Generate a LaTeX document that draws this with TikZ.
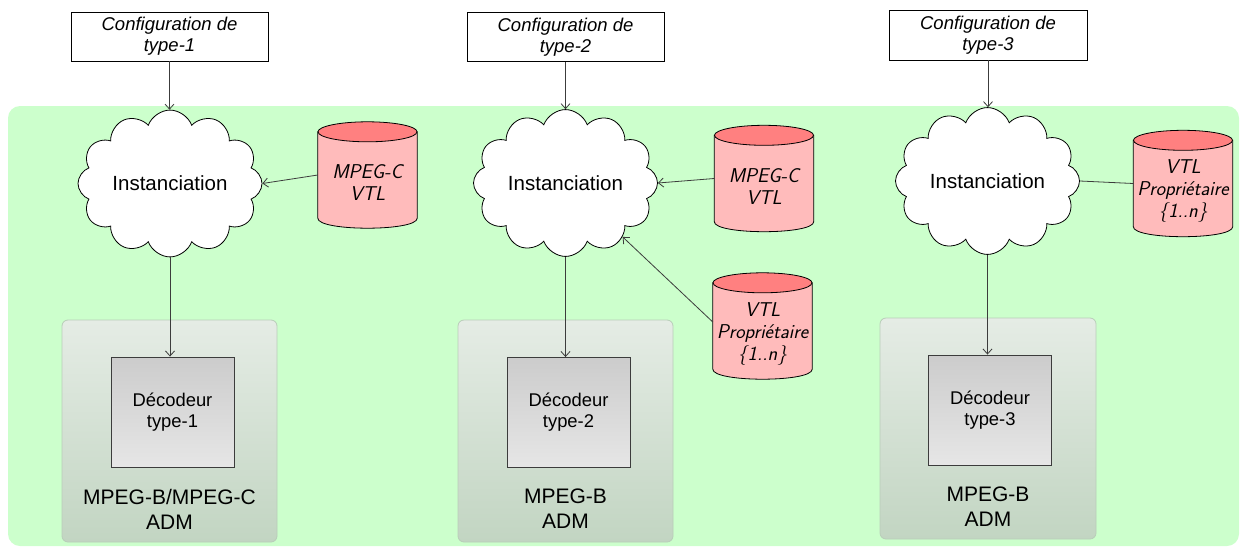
\documentclass[tikz,border=0pt]{standalone}
\usepackage{fontspec}
\setmainfont{Liberation Sans}
\usetikzlibrary{shapes.symbols,arrows.meta}
\definecolor{greenbg}{RGB}{204,255,204}
\definecolor{cylbody}{RGB}{255,187,187}
\definecolor{cyltop}{RGB}{255,128,128}
\definecolor{lineg}{RGB}{60,60,60}
\definecolor{admtop}{RGB}{229,236,229}
\definecolor{admbot}{RGB}{194,213,194}
\definecolor{admborder}{RGB}{185,205,185}
\definecolor{dectop}{RGB}{204,204,204}
\definecolor{decbot}{RGB}{230,230,230}
\tikzset{
  cfgbox/.style={draw=black, line width=0.8pt, fill=white, minimum width=197pt, minimum height=49pt,
    align=center, font=\fontsize{18.5}{21}\selectfont\itshape, inner sep=0pt},
  cloudnode/.style={cloud, draw=black, line width=0.8pt, fill=white, cloud puffs=12, cloud puff arc=140,
    minimum width=184pt, minimum height=137pt, aspect=1.34, inner sep=0pt,
    font=\fontsize{20.5}{24}\selectfont},
  cylframe/.style={rectangle, minimum width=99pt, minimum height=106pt, inner sep=0pt},
  cylline/.style={draw=black, line width=0.8pt},
  cyltext/.style={align=center, inner sep=0pt, font=\fontsize{20}{22}\selectfont\sffamily\itshape},
  admbox/.style={draw=admborder, line width=0.8pt, rounded corners=6pt, top color=admtop, bottom color=admbot,
    minimum width=215pt, minimum height=222pt, inner sep=0pt},
  decbox/.style={draw=lineg, line width=0.9pt, top color=dectop, bottom color=decbot,
    minimum width=123pt, minimum height=110pt, inner sep=0pt,
    align=center, font=\fontsize{18.4}{21}\selectfont},
  admtext/.style={align=center, font=\fontsize{21}{25}\selectfont, inner sep=0pt},
  conn/.style={draw=lineg, line width=0.8pt, -{Straight Barb[length=5pt,width=9pt]}},
  plainconn/.style={draw=lineg, line width=0.8pt}
}
\newcommand\drawcylshape[1]{%
  \path[cylline, fill=cylbody]
    ([yshift=-10pt]#1.north west) -- ([yshift=10pt]#1.south west)
    .. controls ([yshift=-3.33pt]#1.south west) and ([yshift=-3.33pt]#1.south east) .. ([yshift=10pt]#1.south east)
    -- ([yshift=-10pt]#1.north east) -- cycle;
  \path[cylline, fill=cyltop] ([yshift=-10pt]#1.north) ellipse [x radius=49.5pt, y radius=10pt];
}
\begin{document}
\begin{tikzpicture}[x=1pt,y=-1pt]
\useasboundingbox (0,0) rectangle (1247,552);
\node[fill=greenbg, rounded corners=12pt, minimum width=1231pt, minimum height=440pt, inner sep=0pt] (bg) at (623.5,326) {};

\node[cfgbox] (cfg1) at (169.5,36.5) {Configuration de\\type-1};
\node[cfgbox] (cfg2) at (565.5,37) {Configuration de\\type-2};
\node[cfgbox, minimum width=198pt, minimum height=50pt] (cfg3) at (988,35) {Configuration de\\type-3};

\node[admbox] (adm1) at (169.5,431) {};
\node[admbox] (adm2) at (565.5,431) {};
\node[admbox, minimum width=216pt, minimum height=221pt] (adm3) at (988,428.5) {};

\node[decbox] (dec1) at (172.5,412) {Décodeur\\type-1};
\node[decbox] (dec2) at (568.5,412.5) {Décodeur\\type-2};
\node[decbox] (dec3) at (990,410) {Décodeur\\type-3};

\node[admtext] (at1) at (169.5,509) {MPEG-B/MPEG-C\\ADM};
\node[admtext] (at2) at (565.5,509) {MPEG-B\\ADM};
\node[admtext] (at3) at (988,506.5) {MPEG-B\\ADM};

\node[cloudnode] (cl1) at (170,183.5) {Instanciation};
\node[cloudnode] (cl2) at (565.5,183) {Instanciation};
\node[cloudnode] (cl3) at (987.5,181) {Instanciation};

\node[cylframe] (cy1) at (367.5,175) {};
\node[cylframe] (cy2) at (764,178.5) {};
\node[cylframe] (cy2b) at (762.5,326) {};
\node[cylframe] (cy3) at (1183,183.5) {};
\drawcylshape{cy1}
\drawcylshape{cy2}
\drawcylshape{cy2b}
\drawcylshape{cy3}
\node[cyltext] (cyt1) at ([yshift=-8pt]cy1.center) {MPEG-C\\VTL};
\node[cyltext] (cyt2) at ([yshift=-8pt]cy2.center) {MPEG-C\\VTL};
\node[cyltext] (cyt2b) at ([yshift=-8pt]cy2b.center) {VTL\\Propriétaire\\\{1..n\}};
\node[cyltext] (cyt3) at ([yshift=-8pt]cy3.center) {VTL\\Propriétaire\\\{1..n\}};

\draw[conn] (cfg1.south) -- (cfg1.south |- cl1.north);
\draw[conn] (cfg2.south) -- (cfg2.south |- cl2.north);
\draw[conn] (cfg3.south) -- (cfg3.south |- cl3.north);

\draw[conn] (cy1.west) -- (cl1.east);
\draw[conn] (cy2.west) -- (cl2.east);
\draw[plainconn] (cy3.west) -- (cl3.east);
\draw[conn] ([yshift=4pt]cy2b.west) -- (cl2);

\draw[conn] (cl1.south) -- (cl1.south |- dec1.north);
\draw[conn] (cl2.south) -- (cl2.south |- dec2.north);
\draw[conn] (cl3.south) -- (cl3.south |- dec3.north);
\end{tikzpicture}
\end{document}
